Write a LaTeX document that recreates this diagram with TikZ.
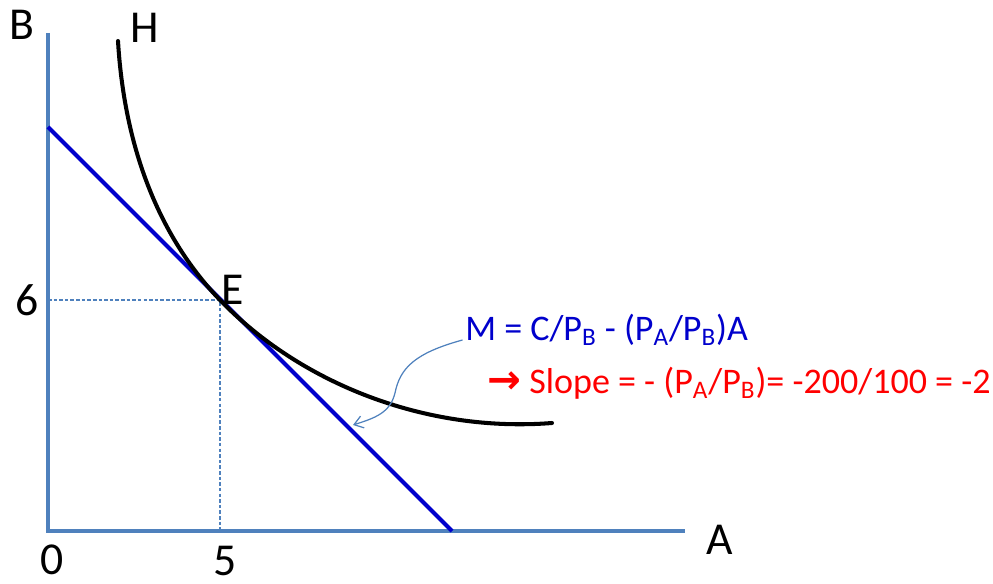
\documentclass[tikz,border=0pt]{standalone}
\usepackage{fontspec}
\setmainfont{Carlito}
\newfontfamily\symfont{DejaVu Sans}
\usetikzlibrary{arrows.meta,positioning,calc}
\definecolor{cAxis}{HTML}{4F81BD}
\definecolor{cBudget}{HTML}{0000CC}
\definecolor{cRed}{HTML}{FF0000}
\definecolor{cInk}{HTML}{000000}
\begin{document}
\begin{tikzpicture}[
  axis/.style={cAxis, line width=2pt},
  budget/.style={cBudget, line width=2.3pt},
  indiff/.style={cInk, line width=2.3pt, line cap=round},
  guide/.style={cAxis, line width=0.6pt, dash pattern=on 2pt off 1.2pt},
  callout/.style={-{Straight Barb[length=5pt,width=7pt]}, cAxis, line width=0.7pt},
  lbl/.style={font=\fontsize{26}{30}\selectfont, text=cInk, inner sep=0pt},
  eqn/.style={font=\fontsize{20.5}{24}\selectfont, anchor=west, inner sep=0pt},
]
\useasboundingbox (0,0) rectangle (19.86,11.66);
% ---------------------------------------------------------------- axes
\coordinate (O) at (0.96,1.04);
\coordinate (ytop) at (0.96,11.0);
\coordinate (xend) at (13.7,1.04);
\draw[axis] (ytop) -- (O) -- (xend);
\node[lbl] (labB) at (0.44,11.16) {B};
\node[lbl] (labA) at (14.4,0.86) {A};
\node[lbl] (lab0) at (1.04,0.46) {0};
% ---------------------------------------------------------------- budget line and tangency
\coordinate (bint) at (0.96,9.12);
\coordinate (aint) at (9.04,1.04);
\coordinate (E) at (4.4,5.66);
\draw[guide] (O |- E) -- (E) -- (E |- O);
\draw[budget] (bint) -- (aint);
\node[lbl] (lab6) at (0.54,5.66) {6};
\node[lbl] (lab5) at (4.5,0.44) {5};
% ---------------------------------------------------------------- indifference curve
\coordinate (Htop) at (2.36,10.84);
\coordinate (Hend) at (11.04,3.2);
\draw[indiff] (Htop) .. controls (2.5,8.5) and (3.3,6.8) .. (E)
  .. controls (6.0,4.0) and (8.5,3.0) .. (Hend);
\node[lbl] (labH) at (2.9,11.1) {H};
\node[lbl] (labE) at (4.66,5.86) {E};
% ---------------------------------------------------------------- equation and slope
\node[eqn, text=cBudget] (eqM) at (9.3,5.06)
  {M = C/P\textsubscript{B} - (P\textsubscript{A}/P\textsubscript{B})A};
\node[eqn, text=cRed] (slope) at (9.74,4.0)
  {{\symfont\bfseries\fontsize{23}{24}\selectfont →} Slope = - (P\textsubscript{A}/P\textsubscript{B})= -200/100 = -2};
\coordinate (onM) at (7.06,3.16);
\draw[callout] ($(eqM.west)+(-0.05,-0.2)$) .. controls (8.3,4.6) and (8.0,4.3) .. (7.9,3.8)
  .. controls (7.8,3.4) and (7.5,3.3) .. (onM);
\end{tikzpicture}
\end{document}
